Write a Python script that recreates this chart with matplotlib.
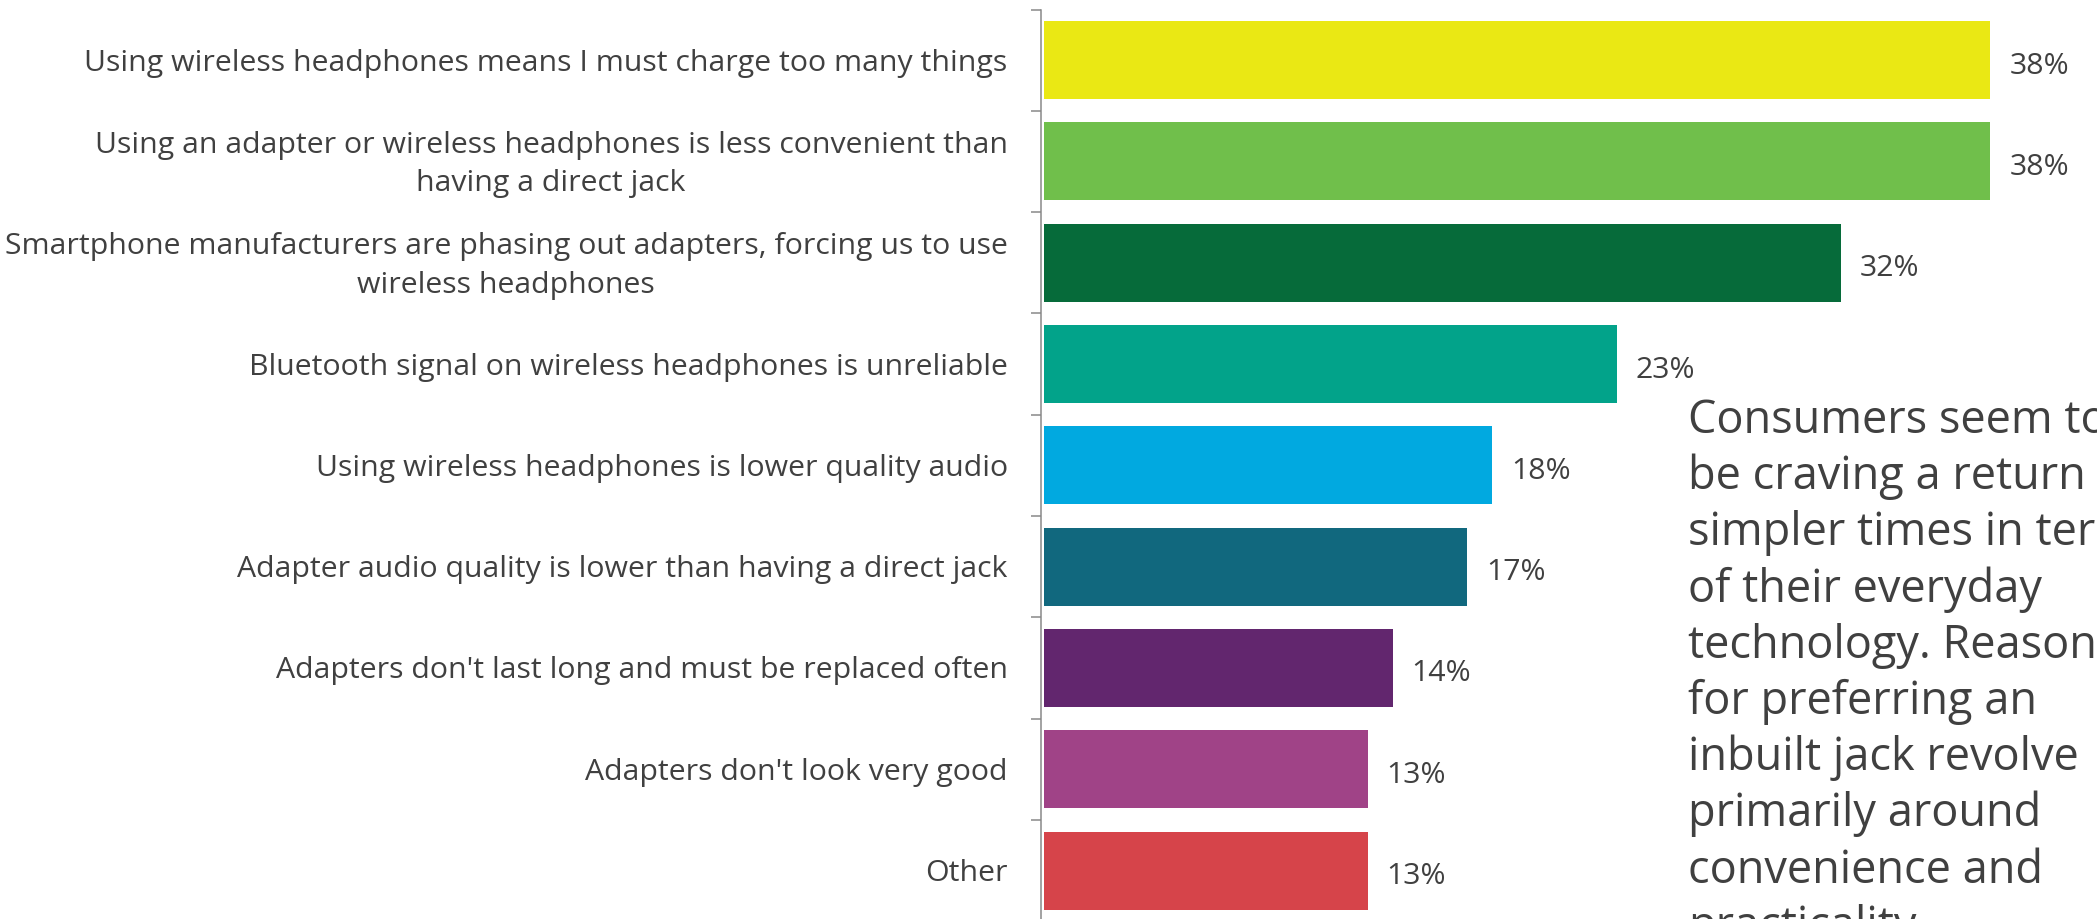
import matplotlib
matplotlib.use("Agg")
import matplotlib.pyplot as plt
import matplotlib.transforms as mtransforms
from matplotlib.ticker import FixedLocator, NullLocator

# Reasons for preferring a built-in headphone jack (% of respondents)
categories = [
    "Using wireless headphones means I must charge too many things",
    "Using an adapter or wireless headphones is less convenient than\nhaving a direct jack",
    "Smartphone manufacturers are phasing out adapters, forcing us to use\nwireless headphones",
    "Bluetooth signal on wireless headphones is unreliable",
    "Using wireless headphones is lower quality audio",
    "Adapter audio quality is lower than having a direct jack",
    "Adapters don't last long and must be replaced often",
    "Adapters don't look very good",
    "Other",
]
values = [38, 38, 32, 23, 18, 17, 14, 13, 13]
bar_colors = ["#EAE814", "#70BF4B", "#066B3A", "#02A38A", "#01A9E0",
              "#11687E", "#62266E", "#A04387", "#D6444A"]

note_lines = [
    "Consumers seem to",
    "be craving a return to",
    "simpler times in terms",
    "of their everyday",
    "technology. Reasons",
    "for preferring an",
    "inbuilt jack revolve",
    "primarily around",
    "convenience and",
    "practicality.",
]

TEXT = "#404040"
AXIS = "#868686"
W, H, DPI = 2097, 919, 100

plt.rcParams["font.family"] = ["Open Sans", "DejaVu Sans"]
fig = plt.figure(figsize=(W / DPI, H / DPI), dpi=DPI)
fig.patch.set_facecolor("white")

n = len(categories)
slot = 101.3        # px per category row
top_px = 9.5
left_px = 1044
px_per_pct = 24.9

ax = fig.add_axes([left_px / W, 1 - (top_px + n * slot) / H,
                   (W - left_px) / W, n * slot / H])
ax.set_xlim(0, (W - left_px) / px_per_pct)
ax.set_ylim(n - 0.5, -0.5)

pos = list(range(n))
ax.barh(pos, values, height=0.77, color=bar_colors, edgecolor="none")

label_fs = 21.8
for i, v in enumerate(values):
    ax.annotate(f"{v}%", (v, i), xytext=(19 * 72 / DPI, -6 * 72 / DPI),
                textcoords="offset points", ha="left", va="center",
                fontsize=label_fs, color=TEXT)

for s in ("top", "right", "bottom"):
    ax.spines[s].set_visible(False)
ax.spines["left"].set_position(("outward", 3 * 72 / DPI))
ax.spines["left"].set_color(AXIS)
ax.spines["left"].set_linewidth(1.5 * 72 / DPI)

ax.xaxis.set_major_locator(NullLocator())
ax.yaxis.set_major_locator(FixedLocator(pos))
ax.yaxis.set_minor_locator(FixedLocator([p - 0.5 for p in range(n + 1)]))
ax.set_yticklabels(categories)
ax.tick_params(axis="y", which="major", length=0, pad=24,
               labelsize=label_fs, labelcolor=TEXT)
ax.tick_params(axis="y", which="minor", length=10 * 72 / DPI,
               width=1.5 * 72 / DPI, color=AXIS)
shift_down = mtransforms.ScaledTranslation(0, -3 / DPI, fig.dpi_scale_trans)
for t in ax.get_yticklabels():
    t.set_multialignment("center")
    t.set_verticalalignment("center")
    t.set_linespacing(1.45)
    t.set_transform(t.get_transform() + shift_down)

# commentary block on the right
note_x = 1688
for k, line in enumerate(note_lines):
    fig.text(note_x / W, 1 - (433 + 56.2 * k) / H, line, ha="left",
             va="baseline", fontsize=32.5, color=TEXT)

fig.savefig("out.png", dpi=DPI, facecolor="white")
